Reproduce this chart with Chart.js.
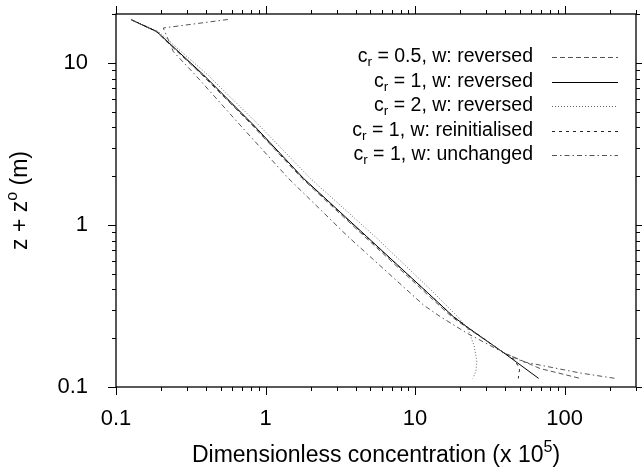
<!DOCTYPE html>
<html>
<head>
<meta charset="utf-8">
<script src="https://cdn.jsdelivr.net/npm/chart.js@4.4.1/dist/chart.umd.min.js"></script>
<style>
  html, body { margin: 0; padding: 0; background: #fff; }
  #wrap { width: 642px; height: 472px; }
</style>
</head>
<body>
<div id="wrap"><canvas id="perfil" width="642" height="472"></canvas></div>
<script>
// ---- datos ----
const seriesLabels = [
  'c_r = 0.5, w: reversed',
  'c_r = 1, w: reversed',
  'c_r = 2, w: reversed',
  'c_r = 1, w: reinitialised',
  'c_r = 1, w: unchanged'
];

// c_r = 0.5, w: reversed
const halfX = [0.127, 0.185, 0.375, 0.81, 1.75, 4.6, 11.6, 17.5, 21.8, 39, 68.5, 127];
const halfY = [18.4, 15.6, 8.44, 4.14, 1.94, 0.847, 0.385, 0.272, 0.235, 0.163, 0.13, 0.113];

// c_r = 1, w: reversed
const oneX = [0.127, 0.187, 0.384, 0.829, 1.79, 4.75, 12, 18, 22.2, 39, 67];
const oneY = [18.4, 15.6, 8.44, 4.14, 1.94, 0.847, 0.385, 0.272, 0.235, 0.163, 0.113];

// c_r = 2, w: reversed
const twoX = [0.127, 0.192, 0.41, 0.9, 1.99, 5.4, 13.2, 19.2, 22.5, 24.8, 25.9, 25.5, 24.3];
const twoY = [18.4, 15.6, 8.44, 4.14, 1.94, 0.847, 0.385, 0.272, 0.23, 0.18, 0.143, 0.125, 0.113];

// c_r = 1, w: reinitialised
const reinitX = [0.127, 0.187, 0.38, 0.82, 1.78, 4.7, 12, 18, 22.2, 39, 46, 50, 49];
const reinitY = [18.4, 15.6, 8.44, 4.14, 1.94, 0.847, 0.385, 0.272, 0.235, 0.163, 0.148, 0.13, 0.113];

// c_r = 1, w: unchanged
const unchX = [0.56, 0.207, 0.242, 0.338, 0.674, 1.42, 3.56, 11.4, 14.7, 22.2, 39, 53, 127, 218];
const unchY = [18.5, 16.4, 11.7, 8.44, 4.14, 1.94, 0.847, 0.32, 0.272, 0.215, 0.163, 0.143, 0.122, 0.113];

const xTickLabels = [0.1, 1, 10, 100];
const yTickLabels = [0.1, 1, 10];

const xTitle = 'Dimensionless concentration (x 10^5)';
const yTitle = 'z + z^o (m)';

// ---- estilos ----
const FONT = '"Liberation Sans", Arial, Helvetica, sans-serif';
const lineStyles = [
  { color: '#555', dash: [5, 3] },
  { color: '#000', dash: [] },
  { color: '#666', dash: [1, 2] },
  { color: '#222', dash: [3, 4] },
  { color: '#555', dash: [5, 3, 1.5, 3] }
];

const pares = (xs, ys) => xs.map((x, i) => ({ x: x, y: ys[i] }));
const puntos = [pares(halfX, halfY), pares(oneX, oneY), pares(twoX, twoY), pares(reinitX, reinitY), pares(unchX, unchY)];

const datasets = seriesLabels.map((lab, i) => ({
  label: lab,
  data: puntos[i],
  showLine: true,
  borderColor: lineStyles[i].color,
  borderDash: lineStyles[i].dash,
  borderWidth: 1,
  pointRadius: 0,
  tension: 0,
  fill: false
}));

// texto con subíndice (_) y superíndice (^) de un carácter
function drawRich(ctx, text, x, y, size, align) {
  const segs = [];
  for (let i = 0; i < text.length; i++) {
    const ch = text[i];
    if ((ch === '_' || ch === '^') && i + 1 < text.length) {
      segs.push({ t: text[i + 1], mode: ch });
      i++;
    } else if (segs.length && segs[segs.length - 1].mode === '') {
      segs[segs.length - 1].t += ch;
    } else {
      segs.push({ t: ch, mode: '' });
    }
  }
  let total = 0;
  segs.forEach(s => {
    s.size = s.mode ? size * 0.7 : size;
    ctx.font = s.size + 'px ' + FONT;
    s.w = ctx.measureText(s.t).width;
    total += s.w;
  });
  let cx = x;
  if (align === 'right') cx = x - total;
  if (align === 'center') cx = x - total / 2;
  ctx.textAlign = 'left';
  ctx.textBaseline = 'middle';
  segs.forEach(s => {
    ctx.font = s.size + 'px ' + FONT;
    let dy = 0;
    if (s.mode === '_') dy = size * 0.28;
    if (s.mode === '^') dy = -size * 0.38;
    ctx.fillText(s.t, cx, y + dy);
    cx += s.w;
  });
}

// marco, marcas de los ejes, títulos y leyenda
const marcoPlugin = {
  id: 'marco',
  afterDraw(chart) {
    const ctx = chart.ctx;
    const a = chart.chartArea;
    const xs = chart.scales.x, ys = chart.scales.y;
    ctx.save();
    ctx.strokeStyle = '#000';
    ctx.fillStyle = '#000';
    ctx.lineWidth = 1.3;
    ctx.setLineDash([]);
    ctx.strokeRect(a.left, a.top, a.right - a.left, a.bottom - a.top);

    ctx.lineWidth = 1;
    ctx.beginPath();
    for (let d = 0.1; d < 1000; d *= 10) {
      for (let m = 1; m <= 9; m++) {
        const v = d * m;
        const len = m === 1 ? 8 : 4;
        if (v >= xs.min * 0.999 && v <= xs.max * 1.001) {
          const px = Math.round(xs.getPixelForValue(v)) + 0.5;
          ctx.moveTo(px, a.bottom); ctx.lineTo(px, a.bottom + len);
          ctx.moveTo(px, a.top); ctx.lineTo(px, a.top - len);
        }
        if (v >= ys.min * 0.999 && v <= ys.max * 1.001) {
          const py = Math.round(ys.getPixelForValue(v)) + 0.5;
          ctx.moveTo(a.left, py); ctx.lineTo(a.left - len, py);
          ctx.moveTo(a.right, py); ctx.lineTo(a.right + len, py);
        }
      }
    }
    ctx.stroke();

    // títulos de los ejes
    drawRich(ctx, xTitle, (a.left + a.right) / 2, 456, 23, 'center');
    ctx.save();
    ctx.translate(21, (a.top + a.bottom) / 2);
    ctx.rotate(-Math.PI / 2);
    drawRich(ctx, yTitle, 0, 0, 23, 'center');
    ctx.restore();

    // leyenda
    chart.data.datasets.forEach((ds, i) => {
      const y = 57 + i * 24.5;
      drawRich(ctx, ds.label, 533, y, 19.5, 'right');
      ctx.beginPath();
      ctx.strokeStyle = ds.borderColor;
      ctx.setLineDash(ds.borderDash);
      ctx.lineWidth = 1;
      ctx.moveTo(552, Math.round(y) + 0.5);
      ctx.lineTo(618, Math.round(y) + 0.5);
      ctx.stroke();
    });
    ctx.restore();
  }
};

const ctxPerfil = document.getElementById('perfil').getContext('2d');
new Chart(ctxPerfil, {
  type: 'scatter',
  data: { datasets: datasets },
  options: {
    responsive: false,
    animation: false,
    layout: { padding: { top: 14, right: 6, left: 0, bottom: 0 } },
    plugins: { legend: { display: false }, tooltip: { enabled: false } },
    scales: {
      x: {
        type: 'logarithmic',
        min: 0.1,
        max: 300,
        grid: { display: false, drawTicks: false },
        border: { display: false },
        afterBuildTicks: s => { s.ticks = xTickLabels.map(v => ({ value: v })); },
        afterFit: s => { s.height = 85; s.paddingLeft = 0; s.paddingRight = 0; },
        ticks: {
          autoSkip: false,
          maxRotation: 0,
          padding: 19,
          color: '#000',
          font: { family: FONT, size: 22 },
          callback: v => String(v)
        }
      },
      y: {
        type: 'logarithmic',
        min: 0.1,
        max: 20,
        grid: { display: false, drawTicks: false },
        border: { display: false },
        afterBuildTicks: s => { s.ticks = yTickLabels.map(v => ({ value: v })); },
        afterFit: s => { s.width = 116; s.paddingTop = 0; s.paddingBottom = 0; },
        ticks: {
          autoSkip: false,
          padding: 28,
          color: '#000',
          font: { family: FONT, size: 22 },
          callback: v => String(v)
        }
      }
    }
  },
  plugins: [marcoPlugin]
});
</script>
</body>
</html>
